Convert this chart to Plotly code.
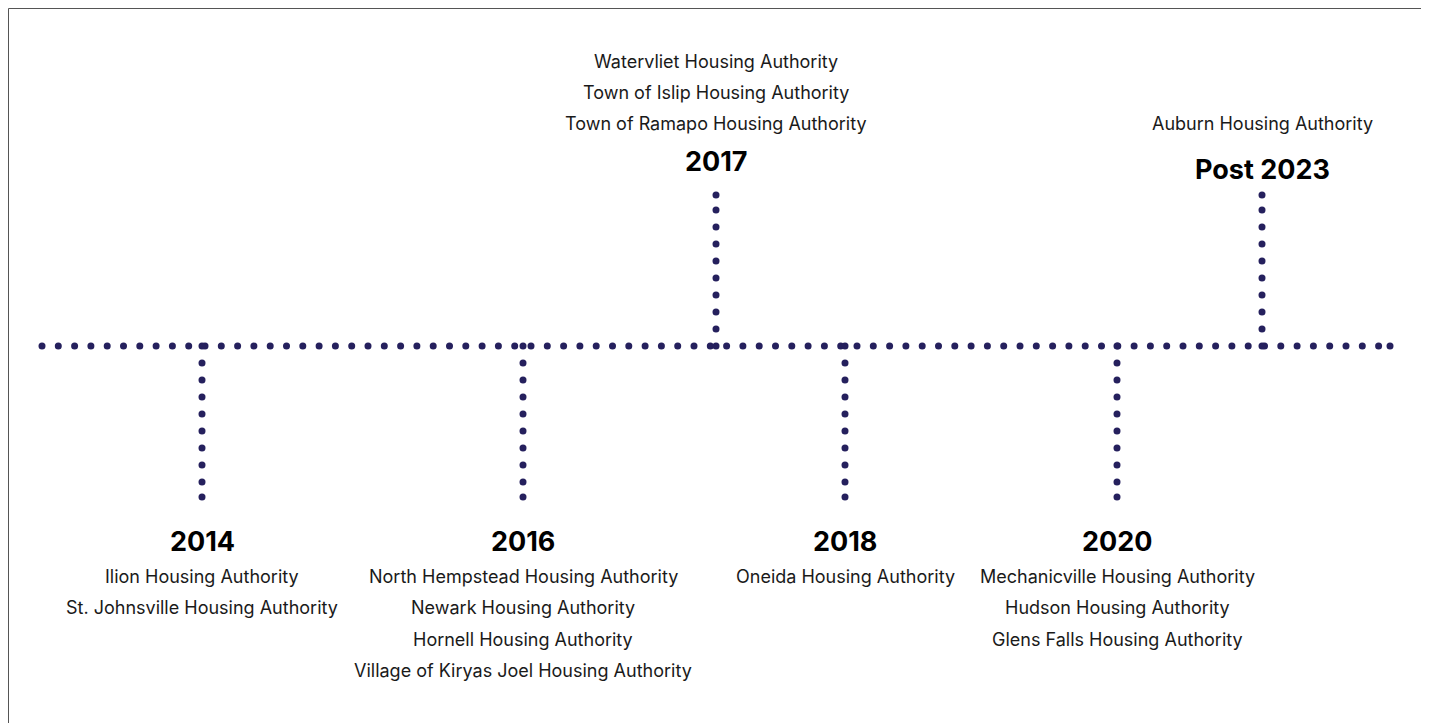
import numpy as np
import plotly.graph_objects as go

# ---- data ----
years = ["2014", "2016", "2017", "2018", "2020", "Post 2023"]
event_x = [202, 523, 716, 845, 1117, 1262]          # position along the timeline
direction = [-1, -1, 1, -1, -1, 1]                  # -1 below line, +1 above
authorities = [
    ["Ilion Housing Authority", "St. Johnsville Housing Authority"],
    ["North Hempstead Housing Authority", "Newark Housing Authority",
     "Hornell Housing Authority", "Village of Kiryas Joel Housing Authority"],
    ["Town of Ramapo Housing Authority", "Town of Islip Housing Authority",
     "Watervliet Housing Authority"],
    ["Oneida Housing Authority"],
    ["Mechanicville Housing Authority", "Hudson Housing Authority",
     "Glens Falls Housing Authority"],
    ["Auburn Housing Authority"],
]
line_start, line_end = 42, 1390

# ---- style ----
W, H = 1429, 723
OFF = 8                          # page offset of the figure
PX = 151.0                       # pixels per stem unit
Y0 = 346                         # page pixel row of the timeline
DOT = "#25205d"
FONT = "Inter"

fig = go.Figure()

# horizontal dotted timeline
hx = np.append(np.arange(line_start, line_end, 16.3), line_end)
fig.add_trace(go.Scatter(x=hx, y=np.zeros_like(hx), mode="markers",
                         marker=dict(size=7, color=DOT), hoverinfo="skip",
                         showlegend=False))

# stems
for x, d in zip(event_x, direction):
    sy = np.append(np.arange(0, 151, 17), 151) / PX * d
    fig.add_trace(go.Scatter(x=[x] * len(sy), y=sy, mode="markers",
                             marker=dict(size=7, color=DOT), hoverinfo="skip",
                             showlegend=False))

# labels
for yr, x, d, names in zip(years, event_x, direction, authorities):
    if d < 0:
        ylab = -(541 - Y0) / PX
        fig.add_annotation(x=x, y=ylab, text="<b>%s</b>" % yr, showarrow=False,
                           font=dict(family=FONT, size=27, color="#000"),
                           xanchor="center", yanchor="middle")
        for i, n in enumerate(names):
            yy = -(576 + 31.5 * i - Y0) / PX
            fig.add_annotation(x=x, y=yy, text=n, showarrow=False,
                               font=dict(family=FONT, size=18, color="#1a1a1a"),
                               xanchor="center", yanchor="middle")
    else:
        ypix = 161 if yr == "2017" else 169
        fig.add_annotation(x=x, y=(Y0 - ypix) / PX, text="<b>%s</b>" % yr,
                           showarrow=False,
                           font=dict(family=FONT, size=27, color="#000"),
                           xanchor="center", yanchor="middle")
        for i, n in enumerate(names):
            yy = (Y0 - (123 - 31 * i)) / PX
            fig.add_annotation(x=x, y=yy, text=n, showarrow=False,
                               font=dict(family=FONT, size=18, color="#1a1a1a"),
                               xanchor="center", yanchor="middle")

# frame (bottom edge runs off the page)
fig.add_shape(type="rect", xref="paper", yref="paper",
              x0=0.5 / W, x1=1415.5 / W, y0=-0.05, y1=1 - 0.5 / H,
              line=dict(color="#555", width=1), fillcolor="rgba(0,0,0,0)")

fig.update_layout(
    width=W, height=H, margin=dict(l=0, r=0, t=0, b=0),
    paper_bgcolor="white", plot_bgcolor="white",
    xaxis=dict(range=[OFF, OFF + W], visible=False, fixedrange=True),
    yaxis=dict(range=[-(OFF + H - Y0) / PX, (Y0 - OFF) / PX],
               visible=False, fixedrange=True),
    showlegend=False,
)

fig.write_html("out.html")
